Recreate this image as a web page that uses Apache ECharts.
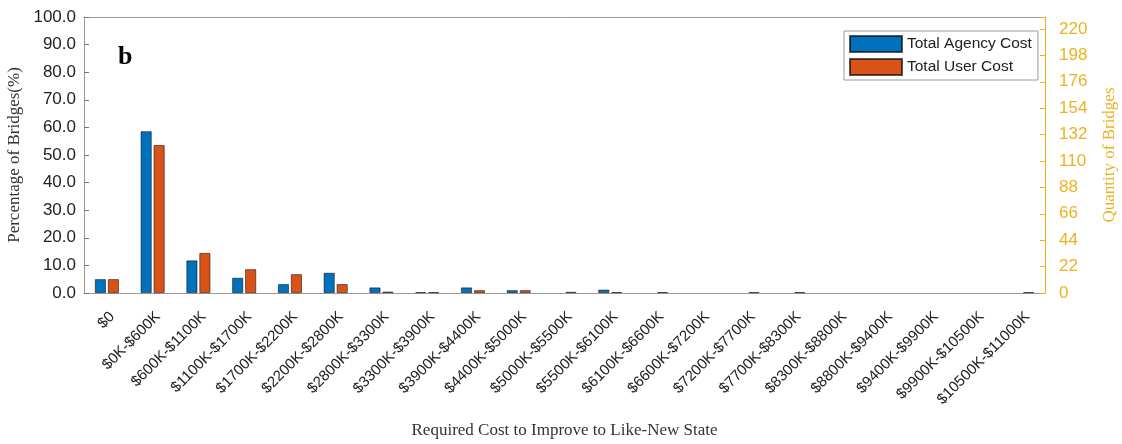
<!DOCTYPE html>
<html>
<head>
<meta charset="utf-8">
<script src="https://cdn.jsdelivr.net/npm/echarts@6/dist/echarts.min.js"></script>
<style>
html,body{margin:0;padding:0;background:#fff;}
#chart{width:1122px;height:444px;}
</style>
</head>
<body>
<div id="chart"></div>
<script>
const categories = ['$0','$0K-$600K','$600K-$1100K','$1100K-$1700K','$1700K-$2200K','$2200K-$2800K','$2800K-$3300K','$3300K-$3900K','$3900K-$4400K','$4400K-$5000K','$5000K-$5500K','$5500K-$6100K','$6100K-$6600K','$6600K-$7200K','$7200K-$7700K','$7700K-$8300K','$8300K-$8800K','$8800K-$9400K','$9400K-$9900K','$9900K-$10500K','$10500K-$11000K'];
const agencyCost = [5.0, 58.6, 11.8, 5.5, 3.2, 7.3, 2.0, 0.3, 2.0, 1.0, 0, 1.2, 0, 0, 0, 0, 0, 0, 0, 0, 0];
const userCost   = [5.0, 53.6, 14.5, 8.6, 6.8, 3.2, 0.5, 0.3, 1.0, 1.0, 0.4, 0.3, 0.3, 0, 0.3, 0.3, 0, 0, 0, 0, 0.3];
const leftTicks = {min: 0, max: 100, interval: 10};
const rightTicks = {min: 0, max: 230, interval: 22, lastLabel: 220};

const chart = echarts.init(document.getElementById('chart'));
const sans = 'Liberation Sans, Arial, sans-serif';
const serif = 'Liberation Serif, Times New Roman, serif';
const noZero = arr => arr.map(v => (v === 0 ? '-' : v));
chart.setOption({
  animation: false,
  grid: {left: 84, right: 77, top: 17, bottom: 151, containLabel: false, outerBoundsMode: 'none'},
  legend: {
    left: 844, top: 31,
    orient: 'vertical',
    icon: 'rect',
    itemWidth: 52, itemHeight: 16, itemGap: 5,
    padding: [4, 6, 4, 5],
    borderColor: '#999', borderWidth: 1,
    backgroundColor: '#fff',
    textStyle: {fontFamily: sans, fontSize: 15.5, color: '#222'},
    data: ['Total Agency Cost', 'Total User Cost']
  },
  graphic: [{
    type: 'text', left: 118, top: 44,
    style: {text: 'b', font: 'bold 26px ' + serif, fill: '#000'}
  }],
  xAxis: [{
    type: 'category', data: categories, position: 'bottom',
    name: 'Required Cost to Improve to Like-New State',
    nameLocation: 'middle', nameGap: 129,
    nameTextStyle: {fontFamily: serif, fontSize: 17, color: '#333'},
    axisLine: {onZero: false, lineStyle: {color: '#999'}},
    axisTick: {inside: true, alignWithLabel: true, length: 5, lineStyle: {color: '#777'}},
    axisLabel: {rotate: 45, interval: 0, fontFamily: sans, fontSize: 15, color: '#222', margin: 16, verticalAlign: 'top'}
  }, {
    type: 'category', data: categories, position: 'top',
    axisLine: {onZero: false, lineStyle: {color: '#999'}},
    axisTick: {inside: true, alignWithLabel: true, length: 5, lineStyle: {color: '#777'}},
    axisLabel: {show: false}
  }],
  yAxis: [{
    type: 'value', position: 'left',
    min: leftTicks.min, max: leftTicks.max, interval: leftTicks.interval,
    name: 'Percentage of Bridges(%)', nameLocation: 'middle', nameGap: 58, nameRotate: 90,
    nameTextStyle: {fontFamily: serif, fontSize: 17, color: '#333'},
    axisLine: {show: true, lineStyle: {color: '#999'}},
    axisTick: {show: true, inside: true, length: 5, lineStyle: {color: '#777'}},
    axisLabel: {fontFamily: sans, fontSize: 17, color: '#222', formatter: v => v.toFixed(1), margin: 8},
    splitLine: {show: false}
  }, {
    type: 'value', position: 'right',
    min: rightTicks.min, max: rightTicks.max, interval: rightTicks.interval,
    name: 'Quantity of Bridges', nameLocation: 'middle', nameGap: 56, nameRotate: 90,
    nameTextStyle: {fontFamily: serif, fontSize: 17, color: '#EDB120'},
    axisLine: {show: true, lineStyle: {color: '#EDB120'}},
    axisTick: {show: true, inside: true, length: 5, lineStyle: {color: '#EDB120'}},
    axisLabel: {fontFamily: sans, fontSize: 17, color: '#EDB120', margin: 14,
      formatter: v => (v % rightTicks.interval === 0 && v <= rightTicks.lastLabel ? String(v) : '')},
    splitLine: {show: false}
  }],
  series: [{
    name: 'Total Agency Cost', type: 'bar', data: noZero(agencyCost),
    xAxisIndex: 0, yAxisIndex: 0,
    barWidth: 11, barGap: '18%',
    itemStyle: {color: '#0072BD', borderColor: 'rgba(0,0,0,0.65)', borderWidth: 0.8}
  }, {
    name: 'Total User Cost', type: 'bar', data: noZero(userCost),
    xAxisIndex: 0, yAxisIndex: 0,
    barWidth: 11, barGap: '18%',
    itemStyle: {color: '#D95319', borderColor: 'rgba(0,0,0,0.65)', borderWidth: 0.8}
  }]
});
</script>
</body>
</html>
